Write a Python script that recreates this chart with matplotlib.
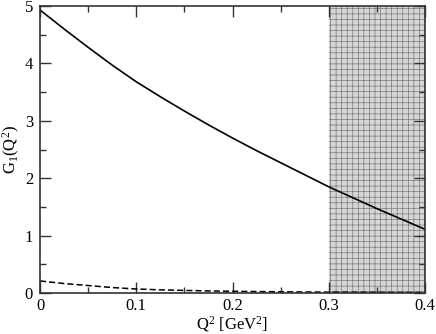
import numpy as np
import matplotlib
matplotlib.use("Agg")
import matplotlib.pyplot as plt
from matplotlib.ticker import MultipleLocator

# values
q2 = [0.000, 0.025, 0.050, 0.075, 0.100, 0.125, 0.150, 0.175, 0.200,
      0.225, 0.250, 0.275, 0.300, 0.325, 0.350, 0.375, 0.400]
g1_solid = [4.93, 4.60, 4.28, 3.97, 3.68, 3.42, 3.17, 2.93, 2.70,
            2.48, 2.27, 2.06, 1.85, 1.66, 1.47, 1.29, 1.11]
g1_dashed = [0.21, 0.165, 0.13, 0.095, 0.07, 0.055, 0.045, 0.036, 0.03,
             0.025, 0.021, 0.018, 0.015, 0.013, 0.011, 0.009, 0.008]
band = (0.30, 0.40)
xtick_labels = ['0', '0.1', '0.2', '0.3', '0.4']

plt.rcParams['font.family'] = ['Liberation Serif', 'DejaVu Serif']
plt.rcParams['mathtext.fontset'] = 'custom'
plt.rcParams['mathtext.rm'] = 'Liberation Serif'
plt.rcParams['mathtext.it'] = 'Liberation Serif'
plt.rcParams['hatch.color'] = '#7a7a7a'
plt.rcParams['hatch.linewidth'] = 0.5

fig = plt.figure(figsize=(4.36, 3.34), dpi=100)
ax = fig.add_axes([40/436, (334-293)/334, (425-40)/436, (293-6)/334])

ax.axvspan(band[0], band[1], facecolor='#d6d6d6', edgecolor='#7a7a7a',
           hatch='+++', linewidth=0, zorder=0)

ax.plot(q2, g1_solid, color='black', lw=1.2)
ax.plot(q2, g1_dashed, color='black', lw=1.1, dashes=(4, 2))

ax.set_xlim(0, 0.4)
ax.set_ylim(0, 5)
ax.xaxis.set_minor_locator(MultipleLocator(0.05))
ax.yaxis.set_major_locator(MultipleLocator(1))
ax.yaxis.set_minor_locator(MultipleLocator(0.5))
ax.set_xticks([0, 0.1, 0.2, 0.3, 0.4])
ax.set_xticklabels(xtick_labels)

ax.tick_params(which='both', direction='in', top=True, right=True,
               colors='#333333', labelcolor='black', labelsize=12)
ax.tick_params(which='major', length=8, width=1)
ax.tick_params(which='minor', length=4, width=1)
ax.tick_params(axis='y', pad=5)
for s in ax.spines.values():
    s.set_color('#333333')
    s.set_linewidth(1.2)

ax.set_xlabel(r'Q$^2$ [GeV$^2$]', fontsize=12, labelpad=0)
ax.set_ylabel(r'G$_1$(Q$^2$)', fontsize=12, labelpad=2)

fig.savefig('out.png', dpi=100)
